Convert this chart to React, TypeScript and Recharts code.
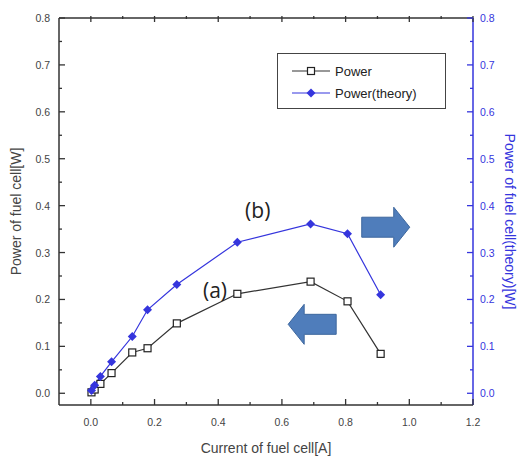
import { Legend, Line, LineChart, ReferenceDot, XAxis, YAxis } from "recharts";

// current [A] and measured / theoretical power [W]
const CURRENT = [0.002, 0.012, 0.03, 0.065, 0.13, 0.178, 0.27, 0.46, 0.69, 0.806, 0.91];
const POWER = [0.002, 0.008, 0.02, 0.043, 0.087, 0.096, 0.149, 0.212, 0.238, 0.196, 0.084];
const POWER_THEORY = [0.006, 0.017, 0.036, 0.067, 0.121, 0.178, 0.232, 0.322, 0.361, 0.34, 0.21];

const X_TICKS = [0, 0.1, 0.2, 0.3, 0.4, 0.5, 0.6, 0.7, 0.8, 0.9, 1.0, 1.1, 1.2];
const Y_TICKS = [
  0, 0.05, 0.1, 0.15, 0.2, 0.25, 0.3, 0.35, 0.4, 0.45, 0.5, 0.55, 0.6, 0.65, 0.7, 0.75, 0.8,
];

const data = CURRENT.map((c, i) => ({ current: c, power: POWER[i], theory: POWER_THEORY[i] }));

const FONT = "'Liberation Sans', Arial, sans-serif";
const AXIS = "#333";
const BLUE = "#3535dd";

type Side = "bottom" | "top" | "left" | "right";

function renderTick(p: any, side: Side, color: string, step: number) {
  const { x, y, payload } = p;
  const v = payload.value as number;
  const major = Math.abs(Math.round(v / step) % 2) === 0;
  const len = major ? 6 : 3;
  const label = v.toFixed(1);
  const textProps = { fontFamily: FONT, fontSize: 10.5, fill: color };
  if (side === "bottom")
    return (
      <g>
        <line x1={x} y1={y} x2={x} y2={y - len} stroke={AXIS} strokeWidth={1.3} />
        {major && (
          <text x={x} y={y + 17} textAnchor="middle" dominantBaseline="central" {...textProps}>
            {label}
          </text>
        )}
      </g>
    );
  if (side === "top")
    return <line x1={x} y1={y} x2={x} y2={y + len} stroke={AXIS} strokeWidth={1.3} />;
  if (side === "left")
    return (
      <g>
        <line x1={x} y1={y} x2={x + len} y2={y} stroke={AXIS} strokeWidth={1.3} />
        {major && (
          <text x={x - 9} y={y} textAnchor="end" dominantBaseline="central" {...textProps}>
            {label}
          </text>
        )}
      </g>
    );
  return (
    <g>
      <line x1={x} y1={y} x2={x - len} y2={y} stroke={color} strokeWidth={1.3} />
      {major && (
        <text x={x + 7} y={y} textAnchor="start" dominantBaseline="central" {...textProps}>
          {label}
        </text>
      )}
    </g>
  );
}

function SquareDot(p: any) {
  const { cx, cy } = p;
  return <rect x={cx - 3.5} y={cy - 3.5} width={7} height={7} fill="#fff" stroke="#222" strokeWidth={1.2} />;
}

function DiamondDot(p: any) {
  const { cx, cy } = p;
  const r = 4.5;
  return <polygon points={`${cx},${cy - r} ${cx + r},${cy} ${cx},${cy + r} ${cx - r},${cy}`} fill={BLUE} />;
}

function BlockArrow({ cx, cy, dir }: { cx: number; cy: number; dir: 1 | -1 }) {
  const len = 48;
  const head = 16;
  const hh = 20;
  const sh = 10;
  const pts = [
    [-len / 2, -sh],
    [len / 2 - head, -sh],
    [len / 2 - head, -hh],
    [len / 2, 0],
    [len / 2 - head, hh],
    [len / 2 - head, sh],
    [-len / 2, sh],
  ]
    .map(([px, py]) => `${cx + dir * px},${cy + py}`)
    .join(" ");
  return <polygon points={pts} fill="#4f7dbb" stroke="#3d679e" strokeWidth={1} />;
}

function LegendBox({ payload }: any) {
  return (
    <div
      style={{
        border: "1.5px solid #444",
        background: "#fff",
        width: 169,
        height: 56,
        boxSizing: "border-box",
        padding: "6px 0 0 14px",
        fontFamily: FONT,
        fontSize: 13,
        color: "#222",
      }}
    >
      {(payload || []).map((e: any) => (
        <div key={e.value} style={{ display: "flex", alignItems: "center", height: 22 }}>
          <svg width={38} height={12} style={{ marginRight: 5 }}>
            <line x1={0} y1={6} x2={38} y2={6} stroke={e.color} strokeWidth={1.2} />
            {e.dataKey === "power" ? <SquareDot cx={19} cy={6} /> : <DiamondDot cx={19} cy={6} />}
          </svg>
          <span>{e.value}</span>
        </div>
      ))}
    </div>
  );
}

export default function App() {
  return (
    <div style={{ position: "absolute", left: 0, top: 0, background: "#fff" }}>
      <LineChart width={520} height={460} data={data} margin={{ top: 8, right: 0, bottom: 0, left: 0 }}>
        <XAxis
          xAxisId="top"
          orientation="top"
          dataKey="current"
          type="number"
          domain={[-0.1, 1.2]}
          allowDataOverflow
          ticks={X_TICKS}
          interval={0}
          height={10}
          tickSize={0}
          tickLine={false}
          axisLine={{ stroke: AXIS, strokeWidth: 1.5 }}
          tick={(p: any) => renderTick(p, "top", AXIS, 0.1)}
        />
        <XAxis
          dataKey="current"
          type="number"
          domain={[-0.1, 1.2]}
          allowDataOverflow
          ticks={X_TICKS}
          interval={0}
          height={55}
          tickSize={0}
          tickMargin={0}
          tickLine={false}
          axisLine={{ stroke: AXIS, strokeWidth: 1.5 }}
          tick={(p: any) => renderTick(p, "bottom", "#444", 0.1)}
          label={(p: any) => {
            const vb = p.viewBox;
            return (
              <text
                x={vb.x + vb.width / 2}
                y={vb.y + 43}
                textAnchor="middle"
                dominantBaseline="central"
                fontFamily={FONT}
                fontSize={14}
                fill="#444"
              >
                Current of fuel cell[A]
              </text>
            );
          }}
        />
        <YAxis
          yAxisId="left"
          type="number"
          domain={[-0.025, 0.8]}
          allowDataOverflow
          ticks={Y_TICKS}
          interval={0}
          width={59}
          tickSize={0}
          tickMargin={0}
          tickLine={false}
          axisLine={{ stroke: AXIS, strokeWidth: 1.5 }}
          tick={(p: any) => renderTick(p, "left", "#444", 0.05)}
          label={(p: any) => {
            const vb = p.viewBox;
            const cx = vb.x + 16;
            const cy = vb.y + vb.height / 2;
            return (
              <text
                x={cx}
                y={cy}
                transform={`rotate(-90 ${cx} ${cy})`}
                textAnchor="middle"
                dominantBaseline="central"
                fontFamily={FONT}
                fontSize={14}
                fill="#444"
              >
                Power of fuel cell[W]
              </text>
            );
          }}
        />
        <YAxis
          yAxisId="right"
          orientation="right"
          type="number"
          domain={[-0.025, 0.8]}
          allowDataOverflow
          ticks={Y_TICKS}
          interval={0}
          width={47}
          tickSize={0}
          tickMargin={0}
          tickLine={false}
          axisLine={{ stroke: BLUE, strokeWidth: 1.5 }}
          tick={(p: any) => renderTick(p, "right", BLUE, 0.05)}
          label={(p: any) => {
            const vb = p.viewBox;
            const cx = vb.x + 37;
            const cy = vb.y + vb.height / 2 + 10;
            return (
              <text
                x={cx}
                y={cy}
                transform={`rotate(90 ${cx} ${cy})`}
                textAnchor="middle"
                dominantBaseline="central"
                fontFamily={FONT}
                fontSize={14}
                fill={BLUE}
              >
                Power of fuel cell(theory)[W]
              </text>
            );
          }}
        />
        <Legend
          layout="vertical"
          align="center"
          verticalAlign="middle"
          wrapperStyle={{ left: 277, top: 53, width: 169 }}
          content={<LegendBox />}
        />
        <Line
          yAxisId="left"
          dataKey="power"
          name="Power"
          stroke="#333"
          strokeWidth={1.2}
          dot={(p: any) => <SquareDot key={`p${p.index}`} {...p} />}
          isAnimationActive={false}
        />
        <Line
          yAxisId="right"
          dataKey="theory"
          name="Power(theory)"
          stroke={BLUE}
          strokeWidth={1.2}
          dot={(p: any) => <DiamondDot key={`t${p.index}`} {...p} />}
          isAnimationActive={false}
        />
        <ReferenceDot
          yAxisId="left"
          x={0.926}
          y={0.354}
          shape={(p: any) => <BlockArrow cx={p.cx} cy={p.cy} dir={1} />}
        />
        <ReferenceDot
          yAxisId="left"
          x={0.695}
          y={0.147}
          shape={(p: any) => <BlockArrow cx={p.cx} cy={p.cy} dir={-1} />}
        />
        <ReferenceDot
          yAxisId="left"
          x={0.39}
          y={0.22}
          shape={(p: any) => (
            <text x={p.cx} y={p.cy} textAnchor="middle" dominantBaseline="central" fontFamily="'Open Sans', sans-serif" fontSize={21} fill="#222">
              (a)
            </text>
          )}
        />
        <ReferenceDot
          yAxisId="left"
          x={0.524}
          y={0.39}
          shape={(p: any) => (
            <text x={p.cx} y={p.cy} textAnchor="middle" dominantBaseline="central" fontFamily="'Open Sans', sans-serif" fontSize={21} fill="#222">
              (b)
            </text>
          )}
        />
      </LineChart>
    </div>
  );
}
